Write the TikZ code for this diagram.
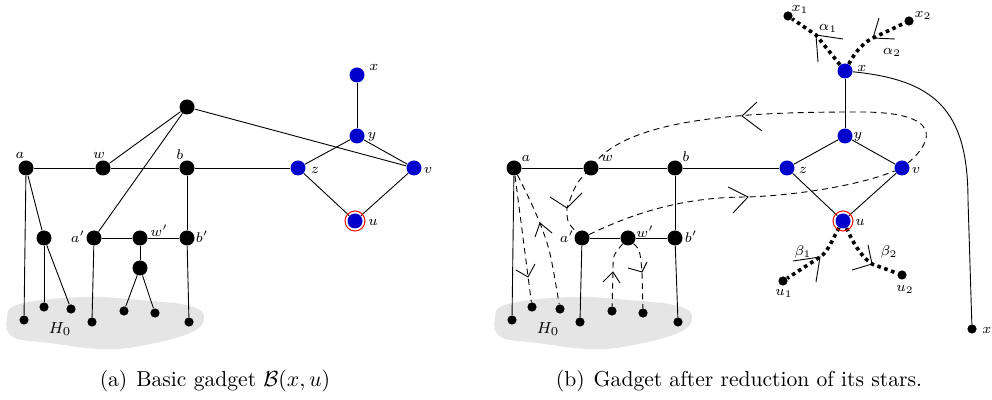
\documentclass[tikz,border=0pt]{standalone}
\usetikzlibrary{calc}
\pgfdeclarelayer{bgg}
\pgfdeclarelayer{bg}
\pgfsetlayers{bgg,bg,main}
\definecolor{nblue}{rgb}{0,0,0.8}
\definecolor{blobgray}{gray}{0.9}
\begin{document}
\begin{tikzpicture}[x=0.5pt,y=-0.5pt,
  bk/.style={circle,fill=black,inner sep=0pt,minimum size=7.5pt},
  lf/.style={circle,fill=black,inner sep=0pt,minimum size=4.6pt},
  bl/.style={circle,fill=nblue,inner sep=0pt,minimum size=7.5pt},
  lab/.style={inner sep=0pt,font=\scriptsize},
  sedge/.style={line width=0.45pt},
  dsh/.style={line width=0.45pt,dash pattern=on 3pt off 2.2pt},
  starline/.style={line width=1.8pt,dash pattern=on 1.8pt off 1.8pt},
  arrarm/.style={line width=0.45pt},
  redring/.style={red,line width=0.5pt},
  captxt/.style={inner sep=0pt,font=\fontsize{10.8}{13}\selectfont}
]
\useasboundingbox (0,0) rectangle (992,400);

% ---------------- left panel nodes ----------------
\node[bk] (T) at (187,107) {};
\node[bk] (a) at (26,168) {};
\node[bk] (w) at (103,168) {};
\node[bk] (b) at (187,168) {};
\node[bl] (z) at (298,168) {};
\node[bl] (x) at (357,75) {};
\node[bl] (y) at (357,136) {};
\node[bl] (v) at (414,168) {};
\node[bl] (u) at (355,221) {};
\node[bk] (c) at (44,238) {};
\node[bk] (ap) at (94,238) {};
\node[bk] (wp) at (140,238) {};
\node[bk] (d) at (140,268) {};
\node[bk] (bp) at (187,238) {};
\node[lf] (l1) at (24,320) {};
\node[lf] (l2) at (44,307) {};
\node[lf] (l3) at (71,309) {};
\node[lf] (l4) at (92,322) {};
\node[lf] (l5) at (124,311) {};
\node[lf] (l6) at (155,313) {};
\node[lf] (l7) at (189,322) {};

\node[lab] (la) at (20,155) {$a$};
\node[lab] (lw) at (99,155) {$w$};
\node[lab] (lb) at (180,155) {$b$};
\node[lab] (lap) at (78,237) {$a'$};
\node[lab] (lwp) at (159,231) {$w'$};
\node[lab] (lbp) at (202,237) {$b'$};
\node[lab] (lx) at (374,67) {$x$};
\node[lab] (ly) at (372,137) {$y$};
\node[lab] (lz) at (315,170) {$z$};
\node[lab] (lv) at (428,170) {$v$};
\node[lab] (lu) at (373,222) {$u$};
\node[lab,font=\footnotesize] (lH) at (60,329) {$H_0$};

% ---------------- right panel nodes ----------------
\node[bk] (Ra) at (514,168) {};
\node[bk] (Rw) at (591,168) {};
\node[bk] (Rb) at (675,168) {};
\node[bl] (Rz) at (787,168) {};
\node[bl] (Rx) at (845,71) {};
\node[bl] (Ry) at (845,136) {};
\node[bl] (Rv) at (902,168) {};
\node[bl] (Ru) at (843,221) {};
\node[bk] (Rap) at (582,238) {};
\node[bk] (Rwp) at (628,238) {};
\node[bk] (Rbp) at (675,238) {};
\node[lf] (Rl1) at (512,320) {};
\node[lf] (Rl2) at (532,307) {};
\node[lf] (Rl3) at (560,309) {};
\node[lf] (Rl4) at (580,322) {};
\node[lf] (Rl5) at (612,311) {};
\node[lf] (Rl6) at (643,313) {};
\node[lf] (Rl7) at (678,322) {};
\node[lf] (x1) at (788,16) {};
\node[lf] (x2) at (909,21) {};
\node[lf] (u1) at (783,281) {};
\node[lf] (u2) at (902,275) {};
\node[lf] (xl) at (972,329) {};

\node[lab] (Rla) at (526,158) {$a$};
\node[lab] (Rlw) at (607,158) {$w$};
\node[lab] (Rlb) at (686,157) {$b$};
\node[lab] (Rlap) at (567,237) {$a'$};
\node[lab] (Rlwp) at (645,232) {$w'$};
\node[lab] (Rlbp) at (691,237) {$b'$};
\node[lab] (Rlx) at (862,68) {$x$};
\node[lab] (Rly) at (858,137) {$y$};
\node[lab] (Rlz) at (803,170) {$z$};
\node[lab] (Rlv) at (916,170) {$v$};
\node[lab] (Rlu) at (860,222) {$u$};
\node[lab,font=\footnotesize] (RlH) at (548,329) {$H_0$};
\node[lab] (lx1) at (800,9) {$x_1$};
\node[lab] (lx2) at (923,15) {$x_2$};
\node[lab] (lal1) at (828,28) {$\alpha_1$};
\node[lab] (lal2) at (892,52) {$\alpha_2$};
\node[lab] (lbe1) at (803,252) {$\beta_1$};
\node[lab] (lbe2) at (889,252) {$\beta_2$};
\node[lab] (lu1) at (784,293) {$u_1$};
\node[lab] (lu2) at (905,289) {$u_2$};
\node[lab] (lxl) at (987,330) {$x$};

% via points / arrow vertices
\coordinate (A1) at (816,35);
\coordinate (A2) at (873,38);
\coordinate (B1) at (820,257);
\coordinate (B2) at (872,264);
\coordinate (L1) at (860,112);
\coordinate (D1) at (742,116);
\coordinate (D2) at (567,208);
\coordinate (D3) at (748,197);
\coordinate (D4) at (528,277);
\coordinate (D5) at (540,223);
\coordinate (D6) at (613,272);
\coordinate (D7) at (642,272);
\coordinate (K1) at (968,200);

% ---------------- captions ----------------
\node[captxt] (capa) at (215,381) {(a)\hspace{4.5pt}Basic gadget $\mathcal{B}(x,u)$};
\node[captxt] (capb) at (739,381) {(b)\hspace{4.5pt}Gadget after reduction of its stars.};

% ---------------- background blobs ----------------
\begin{pgfonlayer}{bgg}
\fill[blobgray] plot[smooth cycle,tension=0.7] coordinates {(7,318) (20,304) (83,297) (140,300) (190,306) (204,318) (190,333) (140,346) (100,349) (50,343) (13,337)};
\begin{scope}[shift={(488,0)}]
\fill[blobgray] plot[smooth cycle,tension=0.7] coordinates {(7,318) (20,304) (83,297) (140,300) (190,306) (204,318) (190,333) (140,346) (100,349) (50,343) (13,337)};
\end{scope}
\end{pgfonlayer}

% ---------------- edges ----------------
\begin{pgfonlayer}{bg}
% left
\draw[sedge] (a) -- (w) -- (b) -- (z);
\draw[sedge] (T) -- (w);
\draw[sedge] (T) -- (ap);
\draw[sedge] (T) -- (v);
\draw[sedge] (x) -- (y);
\draw[sedge] (y) -- (z);
\draw[sedge] (y) -- (v);
\draw[sedge] (z) -- (u);
\draw[sedge] (v) -- (u);
\draw[sedge] (a) -- (l1);
\draw[sedge] (a) -- (c);
\draw[sedge] (c) -- (l2);
\draw[sedge] (c) -- (l3);
\draw[sedge] (ap) -- (l4);
\draw[sedge] (ap) -- (wp) -- (bp);
\draw[sedge] (wp) -- (d);
\draw[sedge] (d) -- (l5);
\draw[sedge] (d) -- (l6);
\draw[sedge] (b) -- (bp);
\draw[sedge] (bp) -- (l7);
% right solid
\draw[sedge] (Ra) -- (Rw) -- (Rb) -- (Rz);
\draw[sedge] (Rx) -- (Ry);
\draw[sedge] (Ry) -- (Rz);
\draw[sedge] (Ry) -- (Rv);
\draw[sedge] (Rz) -- (Ru);
\draw[sedge] (Rv) -- (Ru);
\draw[sedge] (Ra) -- (Rl1);
\draw[sedge] (Rap) -- (Rl4);
\draw[sedge] (Rap) -- (Rwp) -- (Rbp);
\draw[sedge] (Rb) -- (Rbp);
\draw[sedge] (Rbp) -- (Rl7);
\draw[sedge] (Rx) .. controls (935,80) and (968,110) .. (K1) -- (xl);
% right dashed
\draw[dsh] (Rv) .. controls (935,140) and (942,112) .. (L1)
           .. controls (760,112) and (625,115) .. (Rw.center)
           .. controls (576,183) .. (D2) .. controls (567,222) .. (Rap);
\draw[dsh] (Rap) .. controls (650,205) and (700,197) .. (D3)
           .. controls (800,195) and (860,185) .. (Rv);
\draw[dsh] (Ra) -- (Rl2);
\draw[dsh] (Ra) .. controls (530,200) .. (D5) .. controls (550,250) .. (Rl3);
\draw[dsh] (Rwp) .. controls (613,255) .. (D6) -- (Rl5);
\draw[dsh] (Rwp) .. controls (640,250) .. (D7) -- (Rl6);
% stars
\draw[starline] (Rx) -- (A1) -- (x1);
\draw[starline] (Rx) .. controls (852,58) and (860,44) .. (A2) -- (x2);
\draw[starline] (Ru) .. controls (832,240) and (828,252) .. (B1) -- (u1);
\draw[starline] (Ru) .. controls (852,240) and (860,256) .. (B2) -- (u2);
\end{pgfonlayer}

% arrow heads
\draw[arrarm] (A1) ++(27,4) -- (A1) -- ++(2,27);
\draw[arrarm] (A2) ++(6,-20) -- (A2) -- ++(22,1);
\draw[arrarm] (B1) ++(-27,4) -- (B1) -- ++(-4,25);
\draw[arrarm] (B2) ++(-4,-19) -- (B2) -- ++(-20,6);
\draw[arrarm] (D1) ++(15,-14) -- (D1) -- ++(20,15);
\draw[arrarm] (D2) ++(-17,-11) -- (D2) -- ++(15,-15);
\draw[arrarm] (D3) ++(-20,-10) -- (D3) -- ++(-15,16);
\draw[arrarm] (D4) ++(-12,-7) -- (D4) -- ++(7,-13);
\draw[arrarm] (D5) ++(-5,14) -- (D5) -- ++(12,10);
\draw[arrarm] (D6) ++(-10,10) -- (D6) -- ++(7,11);
\draw[arrarm] (D7) ++(-14,-4) -- (D7) -- ++(5,-10);

% red rings
\draw[redring] (u.center) circle (5pt);
\draw[redring] (Ru.center) circle (5pt);
\end{tikzpicture}
\end{document}
